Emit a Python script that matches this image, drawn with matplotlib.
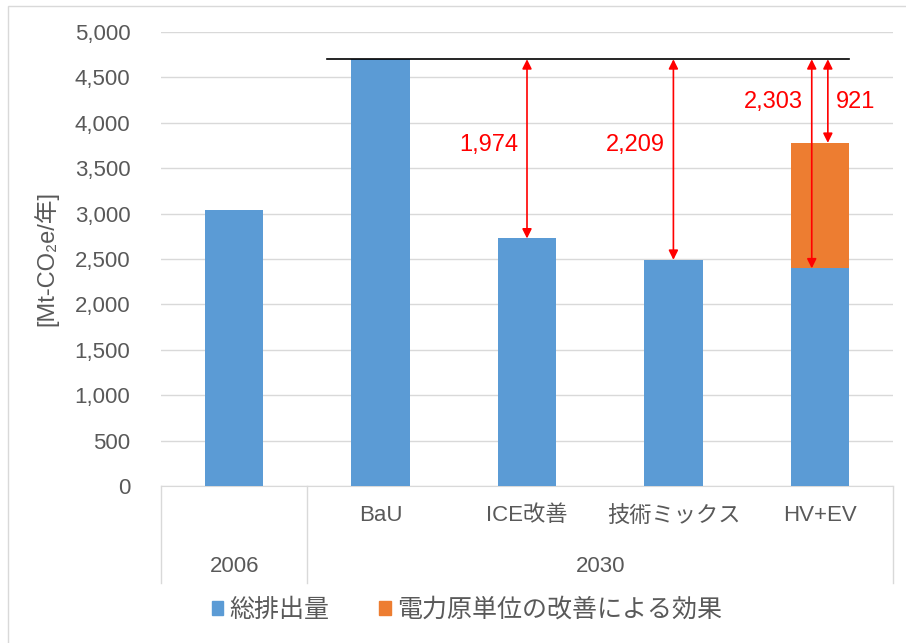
import numpy as np
import matplotlib
matplotlib.use('Agg')
import matplotlib.pyplot as plt
from matplotlib.patches import Rectangle, Patch
from matplotlib.lines import Line2D

plt.rcParams['font.family'] = ['Liberation Sans', 'Noto Sans CJK JP', 'DejaVu Sans']

# data
years = ['2006', '2030']
year_span = [(0, 1), (1, 5)]          # slot ranges per year
categories = ['', 'BaU', 'ICE改善', '技術ミックス', 'HV+EV']
total = [3040, 4700, 2726, 2491, 2397]          # 総排出量
effect = [0, 0, 0, 0, 1382]                     # 電力原単位の改善による効果
bau = 4700
reductions = [(2, 1974), (3, 2209), (4, 2303)]  # (category index, reduction from BaU)
effect_reduction = (4, 921)

series_names = ['総排出量', '電力原単位の改善による効果']
blue = '#5B9BD5'
orange = '#ED7D31'
grey_txt = '#595959'
fs = 16

fig = plt.figure(figsize=(9.06, 6.43), dpi=100)
ax = fig.add_axes([161/906, 1-486/643, 732/906, 454/643])

x = np.arange(len(categories))
ax.bar(x, total, width=0.4, color=blue, zorder=3)
ax.bar(x, effect, bottom=total, width=0.4, color=orange, zorder=3)

ax.set_xlim(-0.5, len(categories) - 0.5)
ax.set_ylim(0, 5000)
ax.set_yticks(np.arange(0, 5001, 500))
ax.set_yticklabels([f'{v:,}' for v in range(0, 5001, 500)])
ax.tick_params(axis='y', length=0, pad=22, labelsize=fs, labelcolor=grey_txt)
ax.grid(axis='y', color='#d9d9d9', lw=1, zorder=0)
for s in ['top', 'right', 'left']:
    ax.spines[s].set_visible(False)
ax.spines['bottom'].set_color('#d9d9d9')

ax.set_xticks(x)
ax.set_xticklabels(categories)
ax.tick_params(axis='x', length=0, pad=14, labelsize=fs, labelcolor=grey_txt)

ax.set_ylabel('[Mt-CO₂e/年]', fontsize=fs + 1, color=grey_txt, labelpad=12)

# multi-level category separators and year labels
trans = ax.get_xaxis_transform()
sep_bottom = -(583 - 486) / 454
for b in [-0.5, 0.5, len(categories) - 0.5]:
    ax.add_line(Line2D([b, b], [0, sep_bottom], transform=trans, color='#d9d9d9',
                       lw=1, clip_on=False))
for yr, (a, b) in zip(years, year_span):
    ax.text((a + b - 1) / 2, -(567 - 486) / 454, yr, transform=trans, ha='center',
            va='center', fontsize=fs, color=grey_txt)

# BaU reference line
ax.plot([0.634, 4.2], [bau, bau], color='black', lw=1.2, zorder=4)

arrow_kw = dict(arrowstyle='<|-|>', color='red', lw=1.2, mutation_scale=14,
                shrinkA=0, shrinkB=0)
for i, r in reductions:
    xi = i - 0.055 if i == effect_reduction[0] else i
    ax.annotate('', xy=(xi, bau - r), xytext=(xi, bau), arrowprops=arrow_kw, zorder=5)
    if i == effect_reduction[0]:
        ax.text(xi - 0.06, bau - 470, f'{r:,}', color='red', fontsize=fs + 1,
                ha='right', va='center')
    else:
        ax.text(xi - 0.06, bau - 950, f'{r:,}', color='red', fontsize=fs + 1,
                ha='right', va='center')
ei, er = effect_reduction
ax.annotate('', xy=(ei + 0.055, bau - er), xytext=(ei + 0.055, bau),
            arrowprops=arrow_kw, zorder=5)
ax.text(ei + 0.11, bau - 470, f'{er:,}', color='red', fontsize=fs + 1, ha='left',
        va='center')

handles = [Patch(color=blue), Patch(color=orange)]
fig.legend(handles, series_names, loc='center', bbox_to_anchor=(467/906, 1-610/643),
           ncol=2, frameon=False, fontsize=18, handlelength=0.45, handleheight=0.45,
           handletextpad=0.25, columnspacing=2.0, labelcolor=grey_txt)

# chart frame
fig.patches.append(Rectangle((8/906, -0.05), 1.2, 1 - 6/643 + 0.05,
                             transform=fig.transFigure, fill=False,
                             edgecolor='#d9d9d9', lw=1))

fig.savefig('out.png', dpi=100)
